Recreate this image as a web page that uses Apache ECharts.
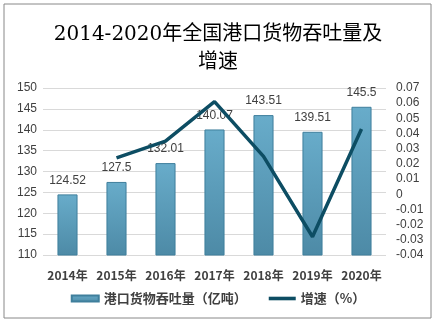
<!DOCTYPE html>
<html><head><meta charset="utf-8">
<script src="https://cdn.jsdelivr.net/npm/echarts@6/dist/echarts.min.js"></script>
<style>html,body{margin:0;padding:0;background:#fff}#c{width:436px;height:322px}</style>
</head><body><div id="c"></div>
<script>
const titleText = '2014-2020年全国港口货物吞吐量及\n增速';
const categories = ['2014年','2015年','2016年','2017年','2018年','2019年','2020年'];
const throughput = [124.52, 127.5, 132.01, 140.07, 143.51, 139.51, 145.5];
const growth = [null, 0.024, 0.035, 0.061, 0.025, -0.028, 0.043];
const leftTicks = {min:110, max:150, interval:5};
const rightTicks = {min:-0.04, max:0.07, interval:0.01};
const seriesNames = ['港口货物吞吐量（亿吨）','增速（%）'];

const chart = echarts.init(document.getElementById('c'), null, {renderer:'canvas'});
const txt = '#404040';
chart.setOption({
  animation:false,
  backgroundColor:'#fff',
  title:{text:titleText,left:'center',top:16,
    textStyle:{fontFamily:"'DejaVu Serif','Noto Sans CJK SC'",fontSize:20,fontWeight:'normal',color:'#000',lineHeight:28}},
  graphic:[{type:'rect',shape:{x:4,y:4,width:427,height:314},style:{fill:null,stroke:'#888',lineWidth:1},silent:true}],
  grid:{left:43,right:50,top:88,bottom:67},
  legend:{bottom:12,left:'center',itemGap:22,itemWidth:27,itemHeight:6,
    textStyle:{fontFamily:"'Noto Sans CJK SC'",fontSize:13,fontWeight:'bold',color:txt},
    data:[{name:seriesNames[0],icon:'rect'},
          {name:seriesNames[1],icon:'path://M0 0 L30 0 L30 4 L0 4 Z',itemStyle:{color:'#0d4d63'}}]},
  xAxis:{type:'category',data:categories,
    axisLine:{show:false},axisTick:{show:false},
    axisLabel:{interval:0,margin:14,color:txt,fontSize:12,fontWeight:'bold',fontFamily:"'Noto Sans CJK SC'"}},
  yAxis:[
    {type:'value',min:leftTicks.min,max:leftTicks.max,interval:leftTicks.interval,
      axisLine:{show:false},axisTick:{show:false},
      splitLine:{lineStyle:{color:'#d9d9d9'}},
      axisLabel:{color:txt,fontSize:12,margin:6,fontFamily:"'Liberation Sans'"}},
    {type:'value',min:rightTicks.min,max:rightTicks.max,interval:rightTicks.interval,
      axisLine:{show:false},axisTick:{show:false},splitLine:{show:false},
      axisLabel:{color:txt,fontSize:12,margin:10,fontFamily:"'Liberation Sans'",
        formatter:v=>String(Math.round(v*100)/100)}}
  ],
  series:[
    {name:seriesNames[0],type:'bar',data:throughput,barWidth:'41%',yAxisIndex:0,
      itemStyle:{color:new echarts.graphic.LinearGradient(0,0,0,1,[{offset:0,color:'#68acca'},{offset:1,color:'#4d8aa6'}]),
        borderColor:'#3f7f9c',borderWidth:1},
      label:{show:true,position:'top',distance:8,color:txt,fontSize:12,fontFamily:"'Liberation Sans'"}},
    {name:seriesNames[1],type:'line',data:growth,yAxisIndex:1,showSymbol:false,symbol:'none',
      lineStyle:{color:'#0d4d63',width:3.5},itemStyle:{color:'#0d4d63'},connectNulls:false}
  ]
});
</script></body></html>
